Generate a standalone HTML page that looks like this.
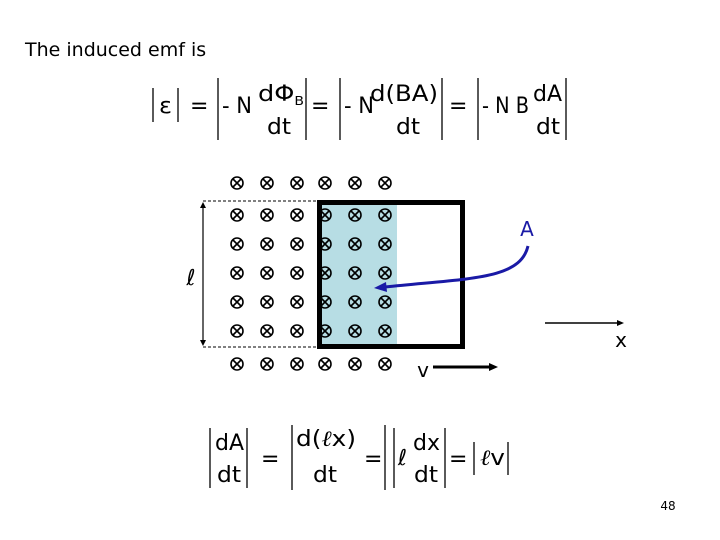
<!DOCTYPE html>
<html><head><style>body{margin:0;background:#fff}svg{display:block}text{font-family:"DejaVu Sans","Liberation Sans",sans-serif}</style></head>
<body>
<svg width="720" height="540" viewBox="0 0 720 540" xmlns="http://www.w3.org/2000/svg">
<defs>
<g id="r" fill="none" stroke="#000" stroke-width="1.6">
<circle cx="237" cy="0" r="6"/><path d="M233,-4l8,8M241,-4l-8,8"/>
<circle cx="267" cy="0" r="6"/><path d="M263,-4l8,8M271,-4l-8,8"/>
<circle cx="297" cy="0" r="6"/><path d="M293,-4l8,8M301,-4l-8,8"/>
<circle cx="325" cy="0" r="6"/><path d="M321,-4l8,8M329,-4l-8,8"/>
<circle cx="355" cy="0" r="6"/><path d="M351,-4l8,8M359,-4l-8,8"/>
<circle cx="385" cy="0" r="6"/><path d="M381,-4l8,8M389,-4l-8,8"/>
</g>
</defs>
<text x="25" y="56" font-size="19" font-family="Liberation Sans">The induced emf is</text>
<g font-size="22" fill="#000" lengthAdjust="spacingAndGlyphs">
<g stroke="#000" stroke-width="1.3">
<line x1="153" y1="88" x2="153" y2="122"/><line x1="178" y1="88" x2="178" y2="122"/>
<line x1="218" y1="78" x2="218" y2="140"/><line x1="306" y1="78" x2="306" y2="140"/>
<line x1="340" y1="78" x2="340" y2="140"/><line x1="442" y1="78" x2="442" y2="140"/>
<line x1="478" y1="78" x2="478" y2="140"/><line x1="566" y1="78" x2="566" y2="140"/>
</g>
<text x="159" y="113" textLength="13" lengthAdjust="spacingAndGlyphs">ε</text>
<text x="190" y="113">=</text>
<text x="222" y="113" textLength="30" lengthAdjust="spacingAndGlyphs">- N</text>
<text x="258" y="101" textLength="46" lengthAdjust="spacingAndGlyphs">dΦ<tspan font-size="12" dy="4">B</tspan></text>
<text x="267" y="134" textLength="24" lengthAdjust="spacingAndGlyphs">dt</text>
<text x="311" y="113">=</text>
<text x="344" y="113" textLength="30" lengthAdjust="spacingAndGlyphs">- N</text>
<text x="370" y="101" textLength="68" lengthAdjust="spacingAndGlyphs">d(BA)</text>
<text x="396" y="134" textLength="24" lengthAdjust="spacingAndGlyphs">dt</text>
<text x="449" y="113">=</text>
<text x="482" y="113" textLength="47" lengthAdjust="spacingAndGlyphs">- N B</text>
<text x="533" y="101" textLength="29" lengthAdjust="spacingAndGlyphs">dA</text>
<text x="536" y="134" textLength="24" lengthAdjust="spacingAndGlyphs">dt</text>
</g>
<rect x="317" y="200" width="80" height="148" fill="#b7dde4"/>
<use href="#r" y="183"/><use href="#r" y="215"/><use href="#r" y="244"/><use href="#r" y="273"/><use href="#r" y="302"/><use href="#r" y="331"/><use href="#r" y="364"/>
<rect x="319.5" y="202.5" width="143" height="144" fill="none" stroke="#000" stroke-width="5"/>
<g stroke="#000" stroke-width="1" stroke-dasharray="3,2"><line x1="203" y1="201" x2="317" y2="201"/><line x1="203" y1="347" x2="317" y2="347"/></g>
<line x1="203" y1="206" x2="203" y2="342" stroke="#000" stroke-width="1.2"/>
<path d="M200,208l3,-6l3,6M200,340l3,6l3,-6" fill="#000"/>
<text x="191" y="285" font-size="22" font-style="italic" font-family="Liberation Serif" text-anchor="middle">ℓ</text>
<text x="527" y="236" font-size="20" fill="#1a1aa6" text-anchor="middle">A</text>
<path d="M528,246 C520,280 470,278 385,287" fill="none" stroke="#1a1aa6" stroke-width="3"/>
<path d="M374,288 l12,-6 l1,10z" fill="#1a1aa6"/>
<line x1="545" y1="323" x2="620" y2="323" stroke="#000" stroke-width="1.5"/>
<path d="M624,323l-7,-3v6z"/>
<text x="621" y="347" font-size="20" text-anchor="middle">x</text>
<text x="423" y="377" font-size="20" text-anchor="middle">v</text>
<line x1="433" y1="367" x2="490" y2="367" stroke="#000" stroke-width="3"/>
<path d="M498,367l-9,-4v8z"/>
<g font-size="22" fill="#000">
<g stroke="#000" stroke-width="1.3">
<line x1="210" y1="428" x2="210" y2="488"/><line x1="247" y1="428" x2="247" y2="488"/>
<line x1="292" y1="425" x2="292" y2="490"/><line x1="385" y1="425" x2="385" y2="490"/>
<line x1="394" y1="428" x2="394" y2="488"/><line x1="445" y1="428" x2="445" y2="488"/>
<line x1="474" y1="442" x2="474" y2="475"/><line x1="508" y1="442" x2="508" y2="475"/>
</g>
<text x="215" y="450" textLength="29" lengthAdjust="spacingAndGlyphs">dA</text>
<text x="217" y="482" textLength="24" lengthAdjust="spacingAndGlyphs">dt</text>
<text x="261" y="466">=</text>
<text x="296" y="446" textLength="60" lengthAdjust="spacingAndGlyphs">d(<tspan font-style="italic" font-family="Liberation Serif">ℓ</tspan>x)</text>
<text x="313" y="482" textLength="24" lengthAdjust="spacingAndGlyphs">dt</text>
<text x="364" y="466">=</text>
<text x="398" y="465" font-style="italic" font-family="Liberation Serif">ℓ</text>
<text x="413" y="450" textLength="27" lengthAdjust="spacingAndGlyphs">dx</text>
<text x="414" y="482" textLength="24" lengthAdjust="spacingAndGlyphs">dt</text>
<text x="449" y="466">=</text>
<text x="480" y="465" textLength="25" lengthAdjust="spacingAndGlyphs"><tspan font-style="italic" font-family="Liberation Serif">ℓ</tspan>v</text>
</g>
<text x="668" y="510" font-size="12" text-anchor="middle">48</text>
</svg>
</body></html>
